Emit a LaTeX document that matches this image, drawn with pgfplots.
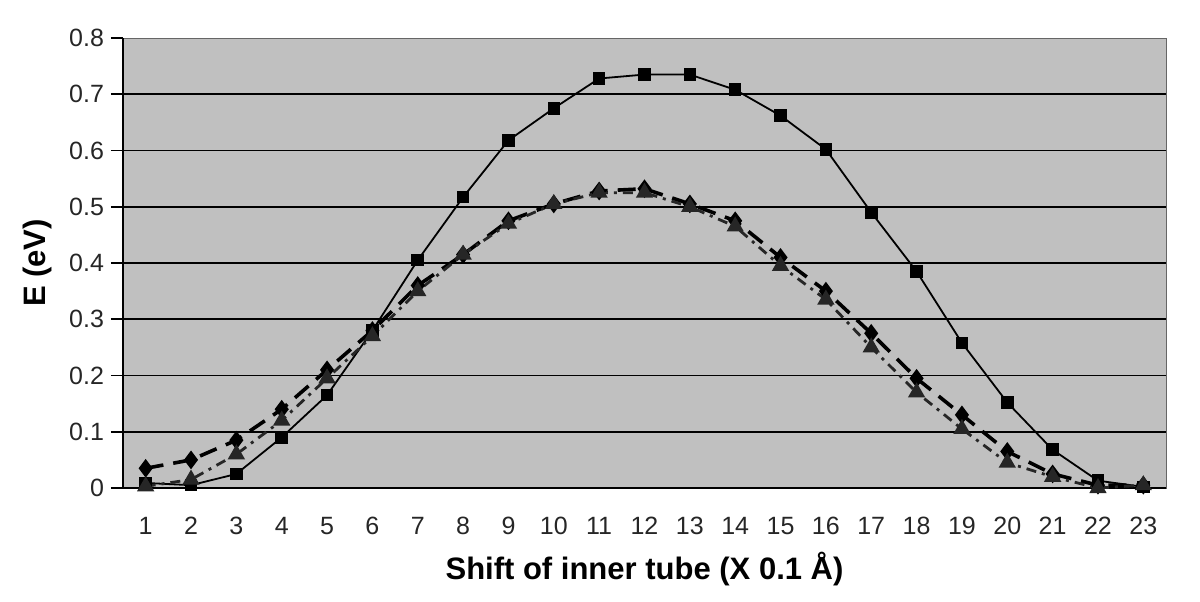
\documentclass[border=0pt]{standalone}
\usepackage{pgfplots}
\pgfplotsset{compat=1.18}
\usepackage{fontspec}
\setmainfont{Liberation Sans}
\usetikzlibrary{calc}
\definecolor{plotbg}{HTML}{C0C0C0}
\definecolor{tri}{HTML}{262626}

\begin{document}
\begin{tikzpicture}
\begin{axis}[
    scale only axis,
    width=521.5pt, height=225pt,
    xmin=0.5, xmax=23.5,
    ymin=0, ymax=0.8,
    axis x line*=bottom, axis y line*=left,
    axis line style={-, line width=1pt, black},
    axis background/.style={fill=plotbg, draw=gray!80!black},
    xtick={1,...,23},
    xtick style={draw=none},
    extra x ticks={0.5,1.5,...,23.5},
    extra x tick labels={},
    extra x tick style={major tick length=6pt, tick style={black, line width=0.8pt}},
    ytick={0,0.1,...,0.71},
    extra y ticks={0.8},
    extra y tick style={grid=none},
    tick align=outside,
    major tick length=6pt,
    ytick style={black, line width=0.8pt},
    ymajorgrids,
    grid style={black, line width=0.8pt},
    yticklabel style={/pgf/number format/.cd, fixed, precision=1},
    /pgf/number format/assume math mode=true,
    tick label style={font=\fontsize{12.5}{14}\selectfont, text=black!85},
    xticklabel style={yshift=-5pt},
    xlabel={\textbf{Shift of inner tube (X 0.1 Å)}},
    ylabel={\textbf{E (eV)}},
    label style={font=\fontsize{15.5}{17}\selectfont},
    xlabel style={yshift=10pt},
    ylabel style={yshift=-10pt},
    clip=false,
]
\addplot[black, line width=0.9pt, mark=square*, mark size=2.7pt, mark options={solid}] coordinates {
(1,0.009) (2,0.005) (3,0.025) (4,0.090) (5,0.165) (6,0.280) (7,0.405) (8,0.517)
(9,0.618) (10,0.675) (11,0.728) (12,0.735) (13,0.735) (14,0.708) (15,0.662)
(16,0.602) (17,0.490) (18,0.385) (19,0.258) (20,0.152) (21,0.068) (22,0.013) (23,0.002)};
\addplot[black, line width=1.8pt, dash pattern=on 9pt off 5pt, mark=diamond*, mark size=3.2pt, mark options={solid}] coordinates {
(1,0.035) (2,0.050) (3,0.085) (4,0.140) (5,0.210) (6,0.280) (7,0.360) (8,0.415)
(9,0.475) (10,0.505) (11,0.528) (12,0.532) (13,0.505) (14,0.475) (15,0.410)
(16,0.350) (17,0.275) (18,0.195) (19,0.130) (20,0.065) (21,0.025) (22,0.005) (23,0.005)};
\addplot[tri, line width=1.4pt, dash pattern=on 5pt off 3pt on 1.5pt off 3pt, mark=triangle*, mark size=3.6pt, mark options={solid}] coordinates {
(1,0.003) (2,0.015) (3,0.060) (4,0.120) (5,0.195) (6,0.270) (7,0.350) (8,0.415)
(9,0.470) (10,0.505) (11,0.525) (12,0.525) (13,0.500) (14,0.465) (15,0.395)
(16,0.335) (17,0.250) (18,0.170) (19,0.105) (20,0.045) (21,0.020) (22,0.000) (23,0.005)};
\coordinate (sw) at (rel axis cs:0,0);
\coordinate (ne) at (rel axis cs:1,1);
\end{axis}
\pgfresetboundingbox
\path[use as bounding box] ($(sw)+(-61.5pt,-56.5pt)$) rectangle ($(ne)+(17pt,19pt)$);
\end{tikzpicture}
\end{document}
